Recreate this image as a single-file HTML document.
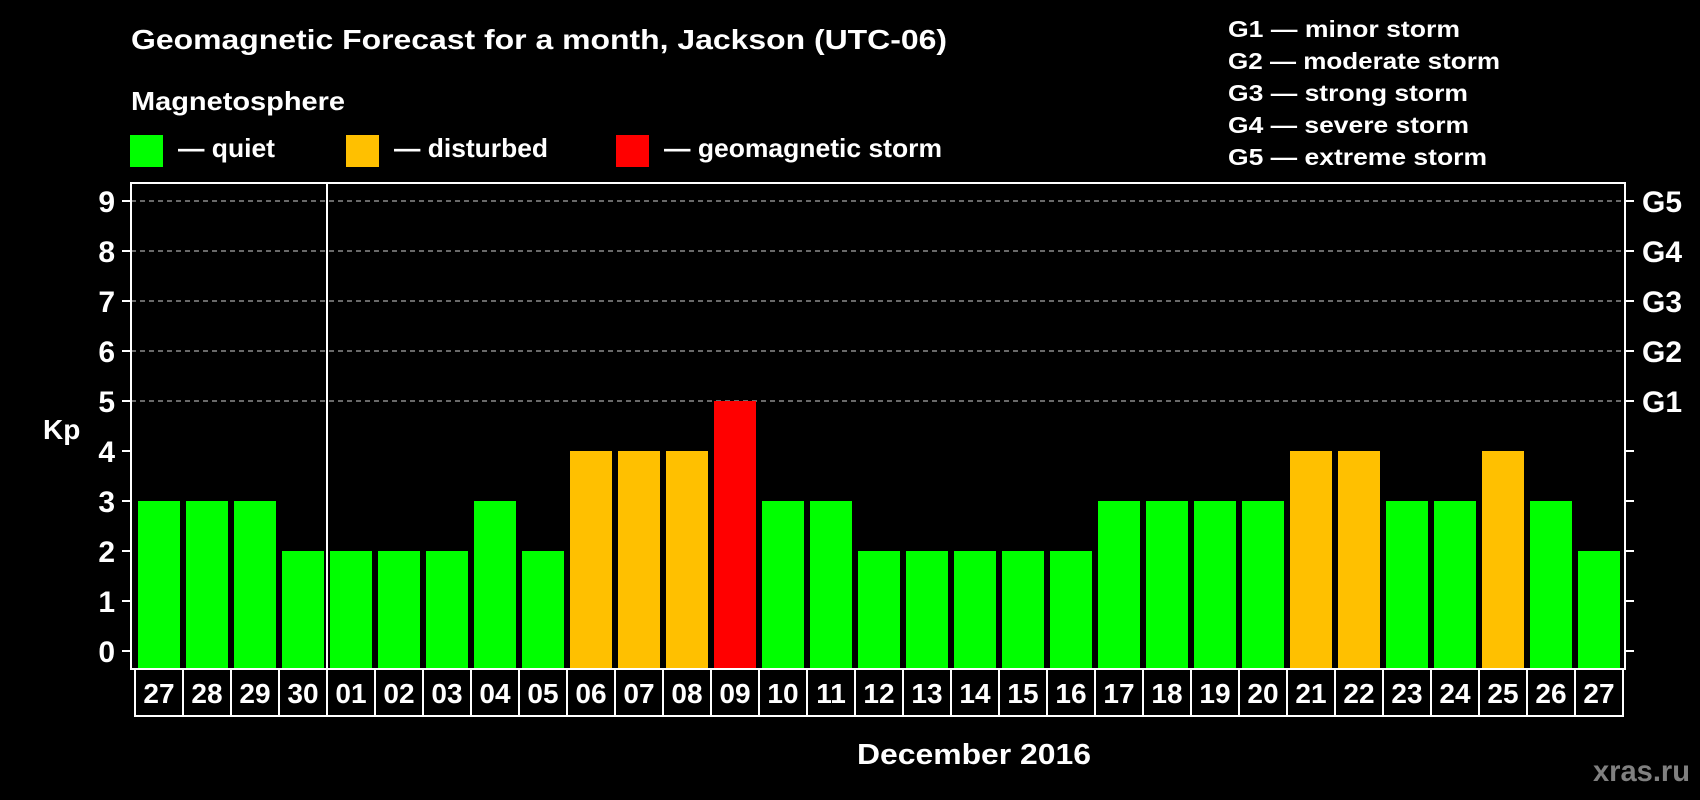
<!DOCTYPE html>
<html><head><meta charset="utf-8"><style>
html,body{margin:0;padding:0;background:#000;}
svg{display:block;font-family:"Liberation Sans",sans-serif;font-weight:bold;}
</style></head><body>
<svg id="chart" width="1700" height="800" viewBox="0 0 1700 800" xmlns="http://www.w3.org/2000/svg">
<rect width="1700" height="800" fill="#000"/>
<text x="131" y="49" fill="#fff" font-size="28" textLength="816" lengthAdjust="spacingAndGlyphs">Geomagnetic Forecast for a month, Jackson (UTC-06)</text>
<text x="131" y="110" fill="#fff" font-size="26" textLength="214" lengthAdjust="spacingAndGlyphs">Magnetosphere</text>
<g>
<rect x="130" y="135" width="33" height="32" fill="#00ff00"/>
<text x="178" y="157" fill="#fff" font-size="26" textLength="97" lengthAdjust="spacingAndGlyphs">— quiet</text></g>
<g>
<rect x="346" y="135" width="33" height="32" fill="#ffc000"/>
<text x="394" y="157" fill="#fff" font-size="26" textLength="154" lengthAdjust="spacingAndGlyphs">— disturbed</text></g>
<g>
<rect x="616" y="135" width="33" height="32" fill="#ff0000"/>
<text x="664" y="157" fill="#fff" font-size="26" textLength="278" lengthAdjust="spacingAndGlyphs">— geomagnetic storm</text></g>
<g fill="#fff" font-size="23">
<text x="1228" y="37" textLength="232" lengthAdjust="spacingAndGlyphs">G1 — minor storm</text>
<text x="1228" y="69" textLength="272" lengthAdjust="spacingAndGlyphs">G2 — moderate storm</text>
<text x="1228" y="101" textLength="240" lengthAdjust="spacingAndGlyphs">G3 — strong storm</text>
<text x="1228" y="133" textLength="241" lengthAdjust="spacingAndGlyphs">G4 — severe storm</text>
<text x="1228" y="165" textLength="259" lengthAdjust="spacingAndGlyphs">G5 — extreme storm</text>
</g>
<text x="43" y="439" fill="#fff" font-size="28">Kp</text>
<text x="857" y="764" fill="#fff" font-size="29" textLength="234" lengthAdjust="spacingAndGlyphs">December 2016</text>
<text x="1593" y="781" fill="#808080" font-size="30" textLength="97" lengthAdjust="spacingAndGlyphs">xras.ru</text>
<g id="grid"></g><g id="bars"></g><g id="axes"></g>
</svg>
<script>
const days = ["27","28","29","30","01","02","03","04","05","06","07","08","09","10","11","12","13","14","15","16","17","18","19","20","21","22","23","24","25","26","27"];
const kpValues = [3,3,3,2,2,2,2,3,2,4,4,4,5,3,3,2,2,2,2,2,3,3,3,3,4,4,3,3,4,3,2];
const yTicks = [0,1,2,3,4,5,6,7,8,9];
const gLabels = ["G1","G2","G3","G4","G5"];
const gLevels = [5,6,7,8,9];
const NS="http://www.w3.org/2000/svg";
const L=131,R=1625,T=183,B=669;
function y(v){return 651-50*v;}
function x(i){return 138+48*i;}
function mk(tag,attrs,parent){const e=document.createElementNS(NS,tag);for(const k in attrs)e.setAttribute(k,attrs[k]);parent.appendChild(e);return e;}
function color(v){return v>=5?"#ff0000":(v>=4?"#ffc000":"#00ff00");}
const grid=document.getElementById('grid'),bars=document.getElementById('bars'),axes=document.getElementById('axes');
gLevels.forEach(v=>{const l=mk('line',{x1:L,x2:R,y1:y(v),y2:y(v),stroke:'#8c8c8c','stroke-width':1.5,'stroke-dasharray':'5 4'},grid);

});
kpValues.forEach((v,i)=>{const r=mk('rect',{x:x(i),y:y(v),width:42,height:B-1-y(v),fill:color(v)},bars);

});
const frame=mk('rect',{x:L,y:T,width:R-L,height:B-T,fill:'none',stroke:'#fff','stroke-width':2},axes);


const sep=mk('line',{x1:327,x2:327,y1:T,y2:B,stroke:'#fff','stroke-width':2},axes);


yTicks.forEach(v=>{
 mk('line',{x1:122,x2:L,y1:y(v),y2:y(v),stroke:'#fff','stroke-width':2},axes);
 mk('line',{x1:R,x2:1634,y1:y(v),y2:y(v),stroke:'#fff','stroke-width':2},axes);
 const t=mk('text',{x:115,y:y(v)+11,fill:'#fff','font-size':30,'text-anchor':'end'},axes);
 t.textContent=v;
 
 
});
gLevels.forEach((v,i)=>{const t=mk('text',{x:1642,y:y(v)+11,fill:'#fff','font-size':30},axes);
 t.textContent=gLabels[i];
 
 });
days.forEach((d,i)=>{
 const c=mk('rect',{x:x(i)-3,y:B,width:48,height:47,fill:'none',stroke:'#fff','stroke-width':2},axes);
 
 
 const t=mk('text',{x:x(i)+21,y:B+34,fill:'#fff','font-size':28,'text-anchor':'middle'},axes);
 t.textContent=d;
 
 
});
</script>
</body></html>
